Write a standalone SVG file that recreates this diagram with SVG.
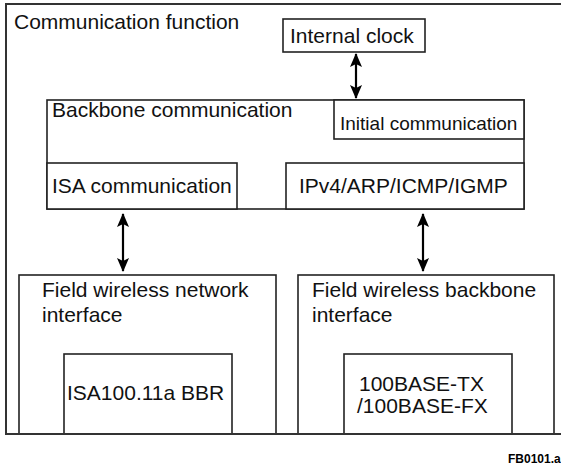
<svg xmlns="http://www.w3.org/2000/svg" width="561" height="468" viewBox="0 0 561 468">
<style>
.b{fill:#fff;stroke:#222;stroke-width:1.6}
.t{font-family:"Liberation Sans",Arial,sans-serif;font-size:21px;fill:#111}
.a{stroke:#000;stroke-width:2.2;fill:none;marker-start:url(#h);marker-end:url(#h)}
</style>
<defs>
<marker id="h" viewBox="0 0 14 12" refX="13" refY="6" markerWidth="14" markerHeight="12" orient="auto-start-reverse" markerUnits="userSpaceOnUse">
<path d="M0,0 L14,6 L0,12 L3,6 z" fill="#000"/>
</marker>
</defs>
<rect width="561" height="468" fill="#fff"/>
<g id="outer">
<path d="M561,4 H6 V434 H561" fill="none" stroke="#333" stroke-width="2"/>
<text class="t" x="14" y="29">Communication function</text>
</g>
<g id="clock">
<rect class="b" x="283" y="19" width="142" height="33"/>
<text class="t" x="290" y="43">Internal clock</text>
</g>
<g id="backbone">
<rect class="b" x="47" y="100" width="477" height="109"/>
<text class="t" x="52" y="117">Backbone communication</text>
</g>
<g id="initial">
<rect class="b" x="334" y="100" width="190" height="39"/>
<text class="t" x="340" y="130" style="font-size:19px">Initial communication</text>
</g>
<g id="isa">
<rect class="b" x="47" y="163" width="190" height="46"/>
<text class="t" x="52" y="193">ISA communication</text>
</g>
<g id="ipv4">
<rect class="b" x="286" y="163" width="238" height="46"/>
<text class="t" x="299" y="193">IPv4/ARP/ICMP/IGMP</text>
</g>
<g id="fwn">
<rect class="b" x="19" y="275" width="257" height="159"/>
<text class="t" x="42" y="297">Field wireless network</text>
<text class="t" x="42" y="322">interface</text>
</g>
<g id="fwb">
<rect class="b" x="298" y="275" width="256" height="159"/>
<text class="t" x="312" y="297">Field wireless backbone</text>
<text class="t" x="312" y="322">interface</text>
</g>
<g id="bbr">
<rect class="b" x="64" y="354" width="168" height="80"/>
<text class="t" x="67" y="400">ISA100.11a BBR</text>
</g>
<g id="base">
<rect class="b" x="344" y="354" width="168" height="80"/>
<text class="t" x="359" y="391">100BASE-TX</text>
<text class="t" x="357" y="413">/100BASE-FX</text>
</g>
<path d="M6,434 H561" stroke="#333" stroke-width="2"/>
<g id="connectors">
<line class="a" x1="356" y1="54" x2="356" y2="98"/>
<line class="a" x1="123" y1="214" x2="123" y2="271"/>
<line class="a" x1="423" y1="214" x2="423" y2="271"/>
</g>
<text x="508" y="463" style="font-family:'Liberation Sans',Arial,sans-serif;font-size:12px;font-weight:bold;fill:#000">FB0101.a</text>
</svg>
